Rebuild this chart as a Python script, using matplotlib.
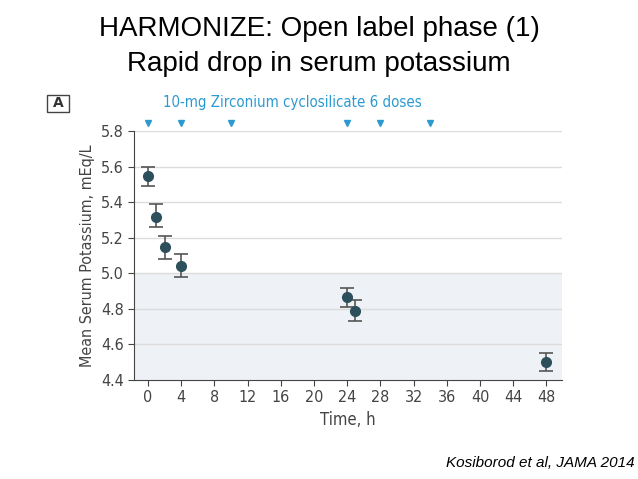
import matplotlib
matplotlib.use('Agg')
import matplotlib.pyplot as plt
from matplotlib.patches import Rectangle

# data
hours = [0, 1, 2, 4, 24, 25, 48]
mean_k = [5.55, 5.32, 5.15, 5.04, 4.87, 4.79, 4.50]
low_k = [5.49, 5.26, 5.08, 4.98, 4.81, 4.73, 4.45]
high_k = [5.60, 5.39, 5.21, 5.11, 4.92, 4.85, 4.55]
dose_times = [0, 4, 10, 24, 28, 34]
xticks = list(range(0, 49, 4))
yticks = [4.4, 4.6, 4.8, 5.0, 5.2, 5.4, 5.6, 5.8]

cond = dict(family='DejaVu Sans', stretch='condensed')
dark = '#2d4f5c'
blue = '#2c9ad1'

fig = plt.figure(figsize=(6.38, 4.79), dpi=100)
ax = fig.add_axes([0.21, 0.2067, 0.671, 0.519])

ax.axhspan(4.4, 5.0, color='#eef1f5', zorder=0, lw=0)
for y in yticks[1:]:
    ax.axhline(y, color='#dcdcdc', lw=1, zorder=1)

yerr = [[m - l for m, l in zip(mean_k, low_k)], [h - m for m, h in zip(mean_k, high_k)]]
ax.errorbar(hours, mean_k, yerr=yerr, fmt='o', color=dark, ms=7,
            ecolor='#555555', elinewidth=1.2, capsize=5, capthick=1.2, zorder=3)

ax.set_xlim(-1.7, 49.9)
ax.set_ylim(4.4, 5.8)
ax.set_xticks(xticks)
ax.set_yticks(yticks)
ax.set_yticklabels(['%.1f' % v for v in yticks])
for s in ['top', 'right']:
    ax.spines[s].set_visible(False)
for s in ['left', 'bottom']:
    ax.spines[s].set_color('#444444')
ax.tick_params(colors='#444444', labelsize=11.5, length=4)
for lab in ax.get_xticklabels() + ax.get_yticklabels():
    lab.set_family('DejaVu Sans')
    lab.set_stretch('condensed')
ax.set_xlabel('Time, h', fontsize=12, color='#444444', **cond)
ax.set_ylabel('Mean Serum Potassium, mEq/L', fontsize=11.5, color='#444444', **cond)

# dose markers above the axes
ax.plot(dose_times, [5.85] * len(dose_times), 'v', color=blue, ms=5, clip_on=False)
ax.text(1.8, 5.965, '10-mg Zirconium cyclosilicate 6 doses', color=blue, fontsize=10.8,
        va='center', ha='left', **cond)

fig.patches.append(Rectangle((0.074, 0.766), 0.034, 0.036, transform=fig.transFigure,
                             fill=False, ec='#444444', lw=1))
fig.text(0.091, 0.784, 'A', ha='center', va='center', fontsize=10, weight='bold', color='#333333')

fig.text(0.5, 0.94, 'HARMONIZE: Open label phase (1)', ha='center', va='center',
         fontsize=20, family='Liberation Sans')
fig.text(0.5, 0.866, 'Rapid drop in serum potassium', ha='center', va='center',
         fontsize=20, family='Liberation Sans')
fig.text(0.995, 0.033, 'Kosiborod et al, JAMA 2014', ha='right', va='center',
         fontsize=11, style='italic', family='Liberation Sans')

fig.savefig('out.png', dpi=100)
